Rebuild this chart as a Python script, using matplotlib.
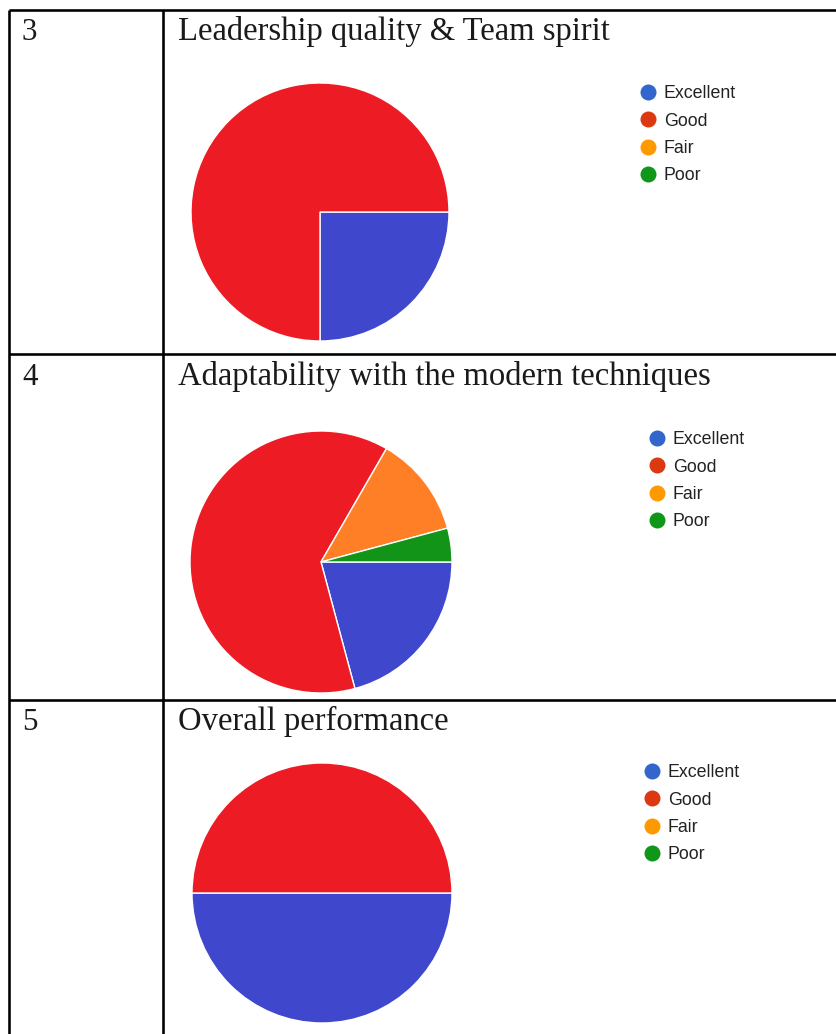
import matplotlib
matplotlib.use("Agg")
import matplotlib.pyplot as plt

W, H = 837, 1034
DPI = 100

# ---- data ----
row_numbers = ["3", "4", "5"]
titles = ["Leadership quality & Team spirit",
          "Adaptability with the modern techniques",
          "Overall performance"]
categories = ["Excellent", "Good", "Fair", "Poor"]
leadership_counts = [6, 18, 0, 0]
adaptability_counts = [5, 15, 3, 1]
overall_counts = [12, 12, 0, 0]
series = [leadership_counts, adaptability_counts, overall_counts]

pie_colors = ["#3F48CC", "#ED1C24", "#FF7F27", "#119418"]
legend_colors = ["#3366CC", "#DC3912", "#FF9900", "#109618"]

# ---- layout (pixels) ----
row_tops = [10, 354, 700]
baselines = [40, 385, 730]
pie_centers = [(320, 212), (321, 562), (322, 893)]
pie_radii = [129, 131, 130]
legend_pos = [(648, 92), (657, 438), (652, 771)]
legend_step = 27.3


def px(v):
    return v * 72.0 / DPI


fig = plt.figure(figsize=(W / DPI, H / DPI), dpi=DPI)
fig.patch.set_facecolor("white")
base = fig.add_axes([0, 0, 1, 1])
base.set_xlim(0, W)
base.set_ylim(H, 0)
base.axis("off")

lw = px(2.6)
# table lines
for y in row_tops:
    base.plot([9, W], [y, y], color="black", lw=lw, solid_capstyle="butt")
base.plot([9, 9], [row_tops[0], H], color="black", lw=lw, solid_capstyle="butt")
base.plot([163, 163], [row_tops[0], H], color="black", lw=lw, solid_capstyle="butt")

for i in range(3):
    base.text(22, baselines[i], row_numbers[i], family="Liberation Serif",
              fontsize=px(31), va="baseline", ha="left", color="#1a1a1a")
    base.text(178, baselines[i], titles[i], family="Liberation Serif",
              fontsize=px(32.6), va="baseline", ha="left", color="#1a1a1a")

    # pie
    cx, cy = pie_centers[i]
    r = pie_radii[i]
    pax = fig.add_axes([(cx - r - 2) / W, 1 - (cy + r + 2) / H,
                        (2 * r + 4) / W, (2 * r + 4) / H])
    vals = series[i]
    idx = [k for k, v in enumerate(vals) if v > 0]
    pax.pie([vals[k] for k in idx], colors=[pie_colors[k] for k in idx],
            startangle=0, counterclock=False, radius=1.0,
            wedgeprops=dict(edgecolor="white", linewidth=1.0))
    lim = (r + 2) / r
    pax.set_xlim(-lim, lim)
    pax.set_ylim(-lim, lim)
    pax.set_aspect("equal")
    pax.axis("off")

    # legend
    lx, ly = legend_pos[i]
    for k, cat in enumerate(categories):
        yy = ly + k * legend_step
        base.plot([lx], [yy], marker="o", markersize=px(16), color=legend_colors[k],
                  markeredgewidth=0, linestyle="none")
        base.text(lx + 16, yy + 6.3, cat, family="Liberation Sans", fontsize=px(17.7),
                  va="baseline", ha="left", color="#222222")

fig.savefig("out.png", dpi=DPI, facecolor="white")
